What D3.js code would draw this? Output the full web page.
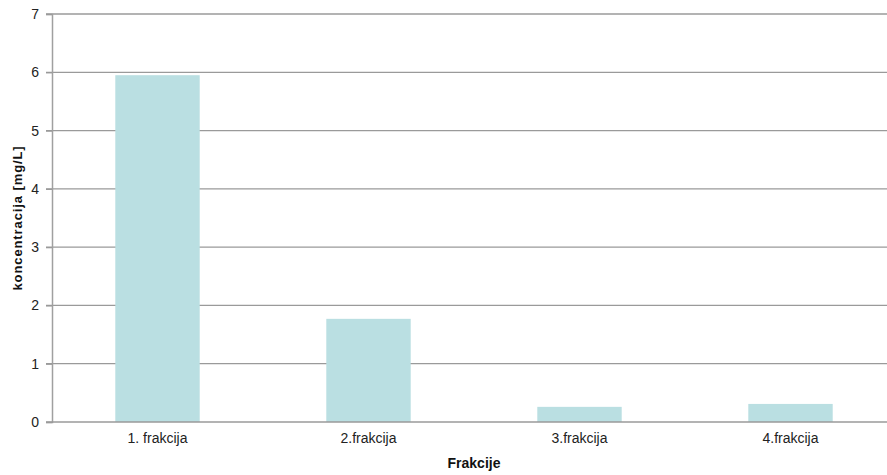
<!DOCTYPE html>
<html><head><meta charset="utf-8">
<script src="https://cdn.jsdelivr.net/npm/d3@7"></script>
<style>body{margin:0;background:#fff}svg{display:block}text{font-family:"Liberation Sans",Arial,sans-serif}</style>
</head><body>
<script>
const categories = ["1. frakcija", "2.frakcija", "3.frakcija", "4.frakcija"];
const values = [5.95, 1.77, 0.26, 0.31];
const yTicks = [0, 1, 2, 3, 4, 5, 6, 7];
const xTitle = "Frakcije";
const yTitle = "koncentracija [mg/L]";

const W = 887, H = 475;
const m = {left: 52, top: 14, bottom: 53};
const svg = d3.select("body").append("svg").attr("width", W).attr("height", H);
const x = d3.scaleBand().domain(categories).range([m.left, 896]).paddingInner(0.6).paddingOuter(0.3);
const y = d3.scaleLinear().domain([0, 7]).range([H - m.bottom, m.top]);

// gridlines
svg.append("g").selectAll("line").data(yTicks.filter(d => d > 0)).join("line")
  .attr("x1", m.left - 6).attr("x2", W).attr("y1", d => y(d)).attr("y2", d => y(d))
  .attr("stroke", "#9a9a9a").attr("stroke-width", 1.3);

// bars
svg.append("g").selectAll("rect").data(values).join("rect")
  .attr("x", (d, i) => x(categories[i])).attr("width", x.bandwidth())
  .attr("y", d => y(d)).attr("height", d => y(0) - y(d))
  .attr("fill", "#badfe2");

// y axis
const ya = svg.append("g").attr("transform", `translate(${m.left},0)`)
  .call(d3.axisLeft(y).tickValues(yTicks).tickSize(6).tickPadding(7).tickFormat(d3.format("d")));
ya.select(".domain").attr("stroke", "#a0a0a0").attr("stroke-width", 1.5);
ya.selectAll(".tick line").attr("stroke", "#9a9a9a").attr("stroke-width", 1.3);
ya.selectAll("text").attr("font-size", 14).attr("fill", "#222").attr("font-family", "Liberation Sans, Arial, sans-serif");

// x axis
const xa = svg.append("g").attr("transform", `translate(0,${y(0)})`)
  .call(d3.axisBottom(x).tickSize(0).tickPadding(11));
xa.select(".domain").attr("stroke", "#9a9a9a").attr("stroke-width", 1.5).attr("d", `M${m.left - 6},0H${W + 10}`);
xa.selectAll("text").attr("font-size", 14).attr("fill", "#222").attr("font-family", "Liberation Sans, Arial, sans-serif");

// titles
svg.append("text").attr("x", (m.left + 896) / 2).attr("y", 468).attr("text-anchor", "middle")
  .attr("font-size", 14).attr("font-weight", "bold").attr("fill", "#111").text(xTitle);
svg.append("text").attr("transform", `translate(22,${(y(0) + y(7)) / 2}) rotate(-90)`).attr("text-anchor", "middle")
  .attr("font-size", 13).attr("letter-spacing", 0.9).attr("font-weight", "bold").attr("fill", "#111").text(yTitle);
</script>
</body></html>
